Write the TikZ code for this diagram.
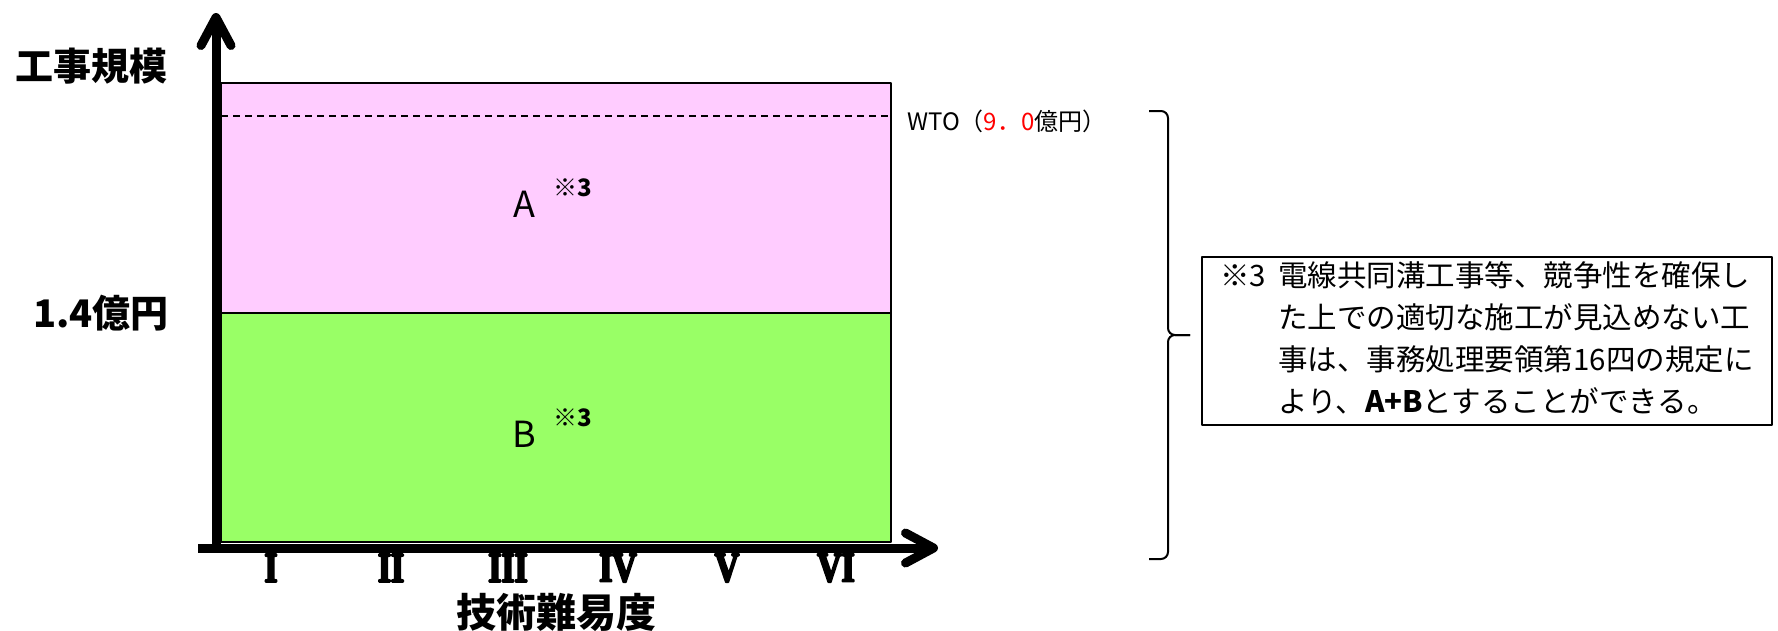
\documentclass[tikz,border=0pt]{standalone}
\usepackage{fontspec}
\usepackage{xcolor}
\usetikzlibrary{arrows.meta}
\setmainfont{Noto Sans CJK JP}
\newfontfamily\romfont[FakeStretch=0.8, FakeBold=5]{Liberation Serif}
\definecolor{ColUpper}{RGB}{255,204,255}
\definecolor{ColLower}{RGB}{153,255,102}
\definecolor{ColPrice}{RGB}{255,0,0}

\begin{document}
\begin{tikzpicture}[
  x=1pt, y=-1pt,
  line join=round,
  every node/.style={inner sep=0pt},
  axis/.style={line width=9pt, -{Straight Barb[round,length=28pt,width=30pt]}},
  axislabel/.style={font=\fontsize{38}{40}\selectfont\bfseries},
  grade/.style={font=\romfont\bfseries\fontsize{42}{44}\selectfont},
  zonelabel/.style={font=\fontsize{36}{38}\selectfont},
  zonemark/.style={font=\fontsize{24}{26}\selectfont\bfseries},
  notebox/.style={draw, line width=1.5pt, minimum width=570pt, minimum height=168pt,
    font=\fontsize{29.5}{42}\selectfont}
]
  \useasboundingbox (0,0) rectangle (1778,630);

  % Zones
  \coordinate (tl) at (221,83);
  \coordinate (br) at (891,542);
  \coordinate (ml) at (221,313);
  \coordinate (mr) at (891,313);
  \coordinate (wl) at (221,116);
  \coordinate (wr) at (891,116);
  \fill[ColUpper] (tl) rectangle (mr);
  \fill[ColLower] (ml) rectangle (br);
  \draw[line width=1.5pt] (tl) rectangle (br);
  \draw[line width=2pt] (ml) -- (mr);
  \draw[line width=1.2pt, dash pattern=on 7pt off 5pt] (wl) -- (wr);

  \node[zonelabel] (labA) at (524,204) {A};
  \node[zonemark] (markA) at (573,188) {※3};
  \node[zonelabel] (labB) at (524,434) {B};
  \node[zonemark] (markB) at (573,418) {※3};

  % Axes
  \coordinate (ybase) at (216,552);
  \coordinate (ytop) at (216,13);
  \coordinate (xbase) at (198,548);
  \coordinate (xtip) at (938,548);
  \draw[axis] (ybase) -- (ytop);
  \draw[axis] (xbase) -- (xtip);

  \node[axislabel] (ylab) at (92,66) {工事規模};
  \node[axislabel] (ylevel) at (101,313) {1.4億円};
  \node[font=\fontsize{40}{44}\selectfont\bfseries] (xlab) at (556,612) {技術難易度};
  \foreach \r/\xp in {I/271, II/391, III/508, IV/618, V/727, VI/836}
    \node[grade] (g\r) at (\xp,568) {\r};

  \node[anchor=west, font=\fontsize{24}{26}\selectfont] (wto) at (907,121)
    {WTO（\textcolor{ColPrice}{9．0}億円）};

  % Brace and note
  \coordinate (btop) at (1149,111);
  \coordinate (bbot) at (1149,559);
  \coordinate (bmid) at (1168,335);
  \coordinate (btip) at (1190,335);
  \draw[line width=2pt, rounded corners=7pt] (btop) -| (bmid) -- (btip);
  \draw[line width=2pt, rounded corners=7pt] (bbot) -| (bmid) -- (btip);

  \node[notebox] (note) at (1487,341) {%
    \begin{tabular}{@{}l@{\hspace{12pt}}l@{}}
      ※3 & 電線共同溝工事等、競争性を確保し\\
         & た上での適切な施工が見込めない工\\
         & 事は、事務処理要領第16四の規定に\\
         & より、\textbf{A+B}とすることができる。
    \end{tabular}};
\end{tikzpicture}
\end{document}
